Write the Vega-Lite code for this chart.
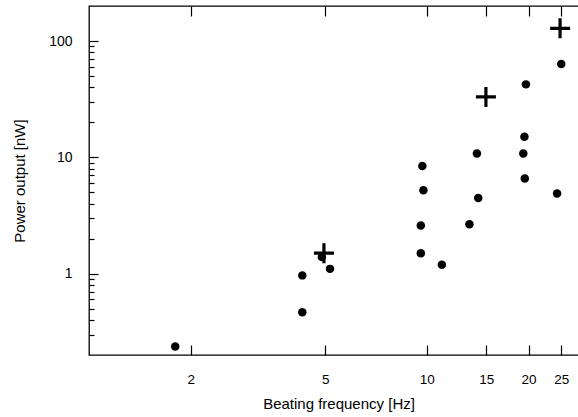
{
  "$schema": "https://vega.github.io/schema/vega-lite/v6.json",
  "autosize": {"type": "none"},
  "padding": {"left": 89, "top": 6, "right": 0, "bottom": 62},
  "width": 499,
  "height": 349,
  "background": "white",
  "config": {
    "view": {"stroke": "black", "strokeWidth": 1.3},
    "font": "Liberation Sans",
    "axis": {
      "domain": false,
      "grid": false,
      "tickColor": "black",
      "tickWidth": 1.2,
      "labelColor": "black",
      "titleColor": "black",
      "labelFont": "Liberation Sans",
      "titleFont": "Liberation Sans",
      "labelFontSize": 14,
      "titleFontSize": 15,
      "titleFontWeight": "normal"
    }
  },
  "layer": [
    {
      "data": {"values": [
        {"freq": 1.80, "power": 0.237},
        {"freq": 4.28, "power": 0.967},
        {"freq": 4.28, "power": 0.467},
        {"freq": 4.89, "power": 1.39},
        {"freq": 5.17, "power": 1.10},
        {"freq": 9.6, "power": 2.59},
        {"freq": 9.6, "power": 1.50},
        {"freq": 11.08, "power": 1.195},
        {"freq": 13.37, "power": 2.66},
        {"freq": 25.0, "power": 63.4},
        {"freq": 19.65, "power": 42.4},
        {"freq": 19.45, "power": 15.0},
        {"freq": 19.3, "power": 10.8},
        {"freq": 14.07, "power": 10.8},
        {"freq": 9.70, "power": 8.44},
        {"freq": 19.5, "power": 6.57},
        {"freq": 9.77, "power": 5.21},
        {"freq": 24.3, "power": 4.88},
        {"freq": 14.2, "power": 4.48}
      ]},
      "mark": {"type": "circle", "color": "black", "size": 72, "opacity": 1},
      "encoding": {
        "x": {
          "field": "freq", "type": "quantitative",
          "scale": {"type": "log", "domain": [1, 30], "nice": false},
          "axis": {"orient": "bottom", "values": [2, 5, 10, 15, 20, 25], "tickSize": -10, "labelPadding": 27, "labelFontSize": 13.5, "title": "Beating frequency [Hz]", "titlePadding": 11, "format": "d"}
        },
        "y": {
          "field": "power", "type": "quantitative",
          "scale": {"type": "log", "domain": [0.2, 200], "nice": false},
          "axis": {"orient": "left", "values": [1, 10, 100], "tickSize": -9, "labelPadding": 26, "title": "Power output [nW]", "titlePadding": 21, "format": "d"}
        }
      }
    },
    {
      "data": {"values": [
        {"freq": 4.96, "power": 1.50},
        {"freq": 14.96, "power": 33.1},
        {"freq": 24.8, "power": 128.6}
      ]},
      "mark": {"type": "point", "shape": "M-1,0L1,0M0,-1L0,1", "filled": false, "stroke": "black", "strokeWidth": 3.2, "size": 400, "opacity": 1},
      "encoding": {
        "x": {
          "field": "freq", "type": "quantitative",
          "scale": {"type": "log", "domain": [1, 30], "nice": false},
          "axis": {"orient": "top", "values": [2, 5, 10, 15, 20, 25], "tickSize": -10, "labels": false, "title": null}
        },
        "y": {
          "field": "power", "type": "quantitative",
          "scale": {"type": "log", "domain": [0.2, 200], "nice": false},
          "axis": {"orient": "left", "values": [0.3, 0.4, 0.5, 0.6, 0.7, 0.8, 0.9, 2, 3, 4, 5, 6, 7, 8, 9, 20, 30, 40, 50, 60, 70, 80, 90], "tickSize": -5, "labels": false, "title": null}
        }
      }
    }
  ],
  "resolve": {"axis": {"x": "independent", "y": "independent"}}
}
